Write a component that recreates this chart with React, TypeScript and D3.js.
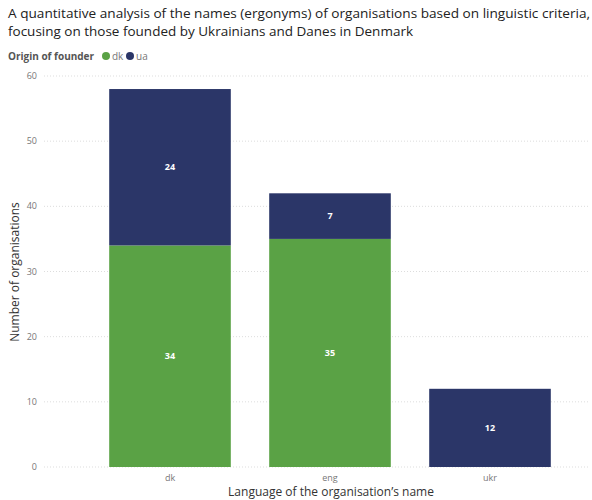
import React from "react";
import * as d3 from "d3";

const categories = ["dk", "eng", "ukr"];
const dkValues = [34, 35, 0];
const uaValues = [24, 7, 12];
const yTicks = [0, 10, 20, 30, 40, 50, 60];
const seriesNames = ["dk", "ua"];
const seriesColors = ["#5aa245", "#2b3668"];

const W = 592;
const H = 500;

export default function App() {
  const x = d3.scaleBand<string>().domain(categories).range([90, 570]).paddingInner(0.24).paddingOuter(0.12);
  const y = d3.scaleLinear().domain([0, 60]).range([467, 76]);

  const rows = categories.map((c, i) => ({ cat: c, dk: dkValues[i], ua: uaValues[i] }));
  const stacked = d3.stack<any>().keys(seriesNames)(rows);

  const font = "'Open Sans', Roboto, sans-serif";

  return (
    <svg width={W} height={H} style={{ position: "absolute", left: 0, top: 0, background: "#fff" }} fontFamily={font}>
      <text x={8} y={18} fontSize={13.5} fill="#222" textLength={582} lengthAdjust="spacingAndGlyphs">
        A quantitative analysis of the names (ergonyms) of organisations based on linguistic criteria,
      </text>
      <text x={8} y={36} fontSize={13.5} fill="#222" textLength={405} lengthAdjust="spacingAndGlyphs">
        focusing on those founded by Ukrainians and Danes in Denmark
      </text>
      <text x={8} y={60} fontSize={10} fontWeight={700} fill="#555">Origin of founder</text>
      {seriesNames.map((s, i) => (
        <g key={s} transform={`translate(${106 + i * 24},56)`}>
          <circle r={4} fill={seriesColors[i]} />
          <text x={6} y={4} fontSize={10} fill="#777">{s}</text>
        </g>
      ))}

      {yTicks.map((t) => (
        <g key={t}>
          <line x1={44} x2={590} y1={y(t)} y2={y(t)} stroke="#ddd" strokeDasharray="1,2" />
          <text x={37} y={y(t) + 3} fontSize={9} fill="#777" textAnchor="end">{t}</text>
        </g>
      ))}

      {stacked.map((layer, li) => (
        <g key={layer.key}>
          {layer.map((d: any, i: number) => {
            const v = d[1] - d[0];
            if (v <= 0) return null;
            const bx = x(categories[i])!;
            const y0 = y(d[0]);
            const y1 = y(d[1]);
            return (
              <g key={i}>
                <rect x={bx} y={y1} width={x.bandwidth()} height={y0 - y1} fill={seriesColors[li]} />
                <text x={bx + x.bandwidth() / 2} y={(y0 + y1) / 2 + 3} fontSize={9} fontWeight={700} fill="#fff" textAnchor="middle">{v}</text>
              </g>
            );
          })}
        </g>
      ))}

      {categories.map((c) => (
        <text key={c} x={x(c)! + x.bandwidth() / 2} y={481} fontSize={9} fill="#777" textAnchor="middle">{c}</text>
      ))}
      <text x={331} y={496} fontSize={12} fill="#333" textAnchor="middle">Language of the organisation’s name</text>
      <text transform={`translate(19,272) rotate(-90)`} fontSize={12} fill="#333" textAnchor="middle">Number of organisations</text>
    </svg>
  );
}
